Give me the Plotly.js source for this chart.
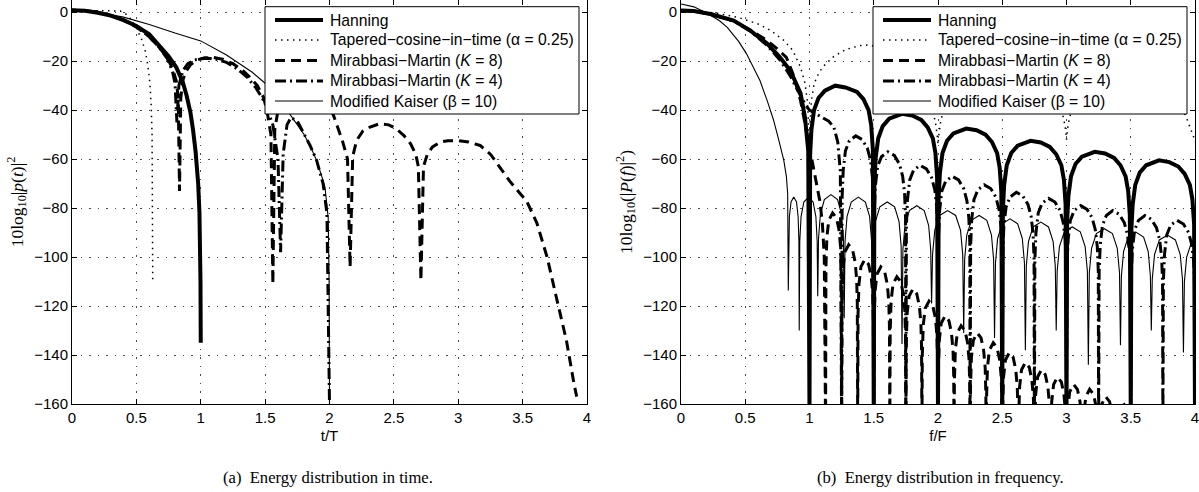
<!DOCTYPE html>
<html>
<head>
<meta charset="utf-8">
<script src="https://cdn.plot.ly/plotly-3.0.1.min.js"></script>
<style>
html,body{margin:0;padding:0;background:#fff;}
#chart{width:1199px;height:492px;}
</style>
</head>
<body>
<div id="chart"></div>
<script>
// ---------- Legend names ----------
const seriesNames = [
  'Hanning',
  'Tapered\u2212cosine\u2212in\u2212time (\u03b1 = 0.25)',
  'Mirabbasi\u2212Martin (<i>K</i> = 8)',
  'Mirabbasi\u2212Martin (<i>K</i> = 4)',
  'Modified Kaiser (\u03b2 = 10)'
];

// ---------- (a) Energy distribution in time: t/T vs dB ----------
const tHanning = [0, 0.1, 0.2, 0.3, 0.4, 0.5, 0.6, 0.68, 0.75, 0.81, 0.86, 0.89, 0.92, 0.94, 0.96, 0.98, 0.99, 0.998, 1.0];
const dbHanningT = [0.8, 0.6, -0.2, -1.4, -3.2, -5.6, -9, -13.5, -18, -22.5, -28.5, -34, -41, -48, -57, -70, -82, -110, -135];

const tTaper = [0, 0.1, 0.2, 0.3, 0.375, 0.42, 0.46, 0.5, 0.54, 0.57, 0.59, 0.605, 0.615, 0.622, 0.627];
const dbTaperT = [0.8, 0.8, 0.8, 0.8, 0.5, -0.8, -3, -6.5, -11, -16, -22, -29, -38, -50, -110];

const tMM8 = [0, 0.1, 0.2, 0.3, 0.4, 0.5, 0.6, 0.68, 0.74, 0.78, 0.81, 0.825, 0.835, 0.845, 0.86, 0.88, 0.92, 0.97, 1.03, 1.1, 1.17, 1.25, 1.32, 1.38, 1.44, 1.49, 1.52, 1.545, 1.56, 1.575, 1.6, 1.65, 1.72, 1.8, 1.88, 1.96, 2.03, 2.1, 2.14, 2.16, 2.18, 2.21, 2.26, 2.31, 2.39, 2.46, 2.52, 2.58, 2.63, 2.67, 2.69, 2.71, 2.73, 2.76, 2.8, 2.86, 2.92, 3.0, 3.08, 3.17, 3.25, 3.32, 3.4, 3.48, 3.53, 3.61, 3.69, 3.76, 3.84, 3.9, 3.92];
const dbMM8T = [0.8, 0.6, 0, -1.2, -3.2, -6, -10, -14.5, -18.5, -23, -28, -35, -73, -35, -28, -24.5, -21.5, -19.5, -18.6, -18.5, -19.2, -21, -23.5, -26.5, -30, -35, -42, -50, -111, -48, -40, -33, -29, -28, -30, -35, -42, -52.4, -60, -104, -59, -52.4, -48.5, -47, -45.5, -46, -47.6, -50.5, -53.7, -58, -63, -109.5, -63, -58, -55, -53, -52.5, -52.4, -53, -54.4, -58, -63, -69, -74, -77, -86, -100, -116, -134, -152, -157];

const tMM4 = [0, 0.1, 0.2, 0.3, 0.4, 0.5, 0.6, 0.68, 0.74, 0.78, 0.8, 0.815, 0.83, 0.86, 0.9, 0.95, 1.0, 1.06, 1.12, 1.2, 1.28, 1.36, 1.43, 1.5, 1.56, 1.6, 1.62, 1.64, 1.67, 1.7, 1.75, 1.8, 1.85, 1.9, 1.95, 1.98, 2.0];
const dbMM4T = [0.8, 0.6, 0, -1.2, -3.2, -6, -10, -14.5, -19, -24, -29, -45, -30, -24, -21, -19.5, -19, -18.8, -19.2, -20.5, -23, -26.5, -31, -37, -46, -60, -98, -58, -46, -43, -44.5, -49.5, -54.5, -60.5, -70, -82, -160];

const tKaiser = [0, 0.2, 0.4, 0.6, 0.8, 1.0, 1.2, 1.4, 1.5, 1.6, 1.67, 1.74, 1.8, 1.85, 1.9, 1.94, 1.965, 1.99, 1.997, 2.0];
const dbKaiserT = [0.5, 0, -2, -5, -8.5, -11.7, -17.5, -24.5, -29, -35, -40, -45, -49.7, -54.5, -60.6, -67, -71.5, -84, -110, -160];

// ---------- (b) Energy distribution in frequency: f/F vs dB ----------
const fHanning = [0, 0.1, 0.23, 0.32, 0.41, 0.54, 0.67, 0.77, 0.85, 0.93, 0.965, 0.99, 1.0,
  1.005, 1.015, 1.035, 1.07, 1.12, 1.2, 1.28, 1.37, 1.42, 1.46, 1.48, 1.493, 1.5,
  1.505, 1.515, 1.535, 1.57, 1.62, 1.72, 1.8, 1.87, 1.92, 1.96, 1.98, 1.993, 2.0,
  2.005, 2.015, 2.035, 2.07, 2.12, 2.22, 2.3, 2.37, 2.42, 2.46, 2.48, 2.493, 2.5,
  2.505, 2.515, 2.535, 2.57, 2.62, 2.72, 2.8, 2.87, 2.92, 2.96, 2.98, 2.993, 3.0,
  3.005, 3.015, 3.035, 3.07, 3.12, 3.22, 3.3, 3.37, 3.42, 3.46, 3.48, 3.493, 3.5,
  3.505, 3.515, 3.535, 3.57, 3.62, 3.72, 3.8, 3.87, 3.92, 3.96, 3.98, 3.993, 4.0];
const dbHanningF = [0.7, 0.5, -0.7, -2, -3.4, -7.5, -12.8, -18.4, -23.8, -33, -43, -56.5, -165,
  -58, -48, -40, -35, -32, -30, -30.7, -32.5, -35.5, -40, -46, -56, -165,
  -69.5, -59.5, -51.5, -46.5, -43.5, -41.5, -42.2, -44, -47, -51.5, -57.5, -67.5, -165,
  -75.5, -65.5, -57.5, -52.5, -49.5, -47.5, -48.2, -50, -53, -57.5, -63.5, -73.5, -165,
  -80.5, -70.5, -62.5, -57.5, -54.5, -52.5, -53.2, -55, -58, -62.5, -68.5, -78.5, -165,
  -85, -75, -67, -62, -59, -57, -57.7, -59.5, -62.5, -67, -73, -83, -165,
  -88.5, -78.5, -70.5, -65.5, -62.5, -60.5, -61.2, -63, -66, -70.5, -76.5, -86.5, -165];

const fTaper = [0, 0.15, 0.3, 0.45, 0.6, 0.7, 0.8, 0.87, 0.93, 0.965, 0.985, 0.995, 1.0, 1.005, 1.015, 1.035, 1.056, 1.1, 1.18, 1.28, 1.39, 1.45, 1.55, 1.65, 1.75, 1.83, 1.9, 1.95, 1.98, 1.993, 2.0, 2.007, 2.02, 2.05, 2.1, 2.18, 2.3, 2.45, 2.6, 2.72, 2.82, 2.9, 2.95, 2.98, 2.993, 3.0, 3.007, 3.02, 3.05, 3.1, 3.18, 3.3, 3.46, 3.6, 3.72, 3.82, 3.89, 3.94, 3.97, 3.99, 4.0];
const dbTaperF = [0.7, 0.4, -0.6, -2.2, -4.8, -7.5, -11.5, -15.6, -22.4, -29, -37, -46, -55, -45, -36, -29.5, -26.5, -22.5, -18.4, -15.3, -13.6, -13.4, -14.2, -16.5, -20.5, -25, -31, -38, -45, -50, -54, -50, -45, -38, -31, -25.5, -21.5, -20.2, -21, -23.5, -27, -32, -37.5, -44, -48, -52, -48, -44, -37.5, -32, -27.5, -25, -24.5, -25.5, -28.5, -33, -38, -44, -48, -51, -53];

const fMM8 = [0, 0.1, 0.23, 0.41, 0.54, 0.67, 0.75, 0.82, 0.87, 0.93, 0.98, 1.03, 1.08, 1.1, 1.115, 1.125,
  1.128, 1.135, 1.15, 1.18, 1.21, 1.23, 1.242, 1.247, 1.25,
  1.253, 1.26, 1.275, 1.305, 1.335, 1.355, 1.367, 1.372, 1.375,
  1.378, 1.385, 1.4, 1.43, 1.46, 1.48, 1.492, 1.497, 1.5,
  1.503, 1.51, 1.525, 1.555, 1.585, 1.605, 1.617, 1.622, 1.625,
  1.628, 1.635, 1.65, 1.68, 1.71, 1.73, 1.742, 1.747, 1.75,
  1.753, 1.76, 1.775, 1.805, 1.835, 1.855, 1.867, 1.872, 1.875,
  1.878, 1.885, 1.9, 1.93, 1.96, 1.98, 1.992, 1.997, 2.0,
  2.003, 2.01, 2.025, 2.055, 2.085, 2.105, 2.117, 2.122, 2.125,
  2.128, 2.135, 2.15, 2.18, 2.21, 2.23, 2.242, 2.247, 2.25,
  2.253, 2.26, 2.275, 2.305, 2.335, 2.355, 2.367, 2.372, 2.375,
  2.378, 2.385, 2.4, 2.43, 2.46, 2.48, 2.492, 2.497, 2.5,
  2.503, 2.51, 2.525, 2.555, 2.585, 2.605, 2.617, 2.622, 2.625,
  2.628, 2.635, 2.65, 2.68, 2.71, 2.73, 2.742, 2.747, 2.75,
  2.753, 2.76, 2.775, 2.805, 2.835, 2.855, 2.867, 2.872, 2.875,
  2.878, 2.885, 2.9, 2.93, 2.96, 2.98, 2.992, 2.997, 3.0,
  3.003, 3.01, 3.025, 3.055, 3.085, 3.105, 3.117, 3.122, 3.125,
  3.128, 3.135, 3.15, 3.18, 3.21, 3.23, 3.242, 3.247, 3.25,
  3.253, 3.26, 3.275, 3.305, 3.335, 3.355, 3.367, 3.372, 3.375,
  3.378, 3.385, 3.4, 3.43, 3.46, 3.48, 3.492, 3.497, 3.5];
const dbMM8F = [0.7, 0.5, -0.8, -3.5, -7.3, -11.5, -15, -18.4, -25, -36, -49.6, -63, -77, -86, -100, -170,
  -104, -92, -85, -82, -84, -89, -96, -106, -170,
  -117, -105, -98, -95, -97, -102, -109, -119, -170,
  -123, -111, -104, -101, -103, -108, -115, -125, -170,
  -126, -114, -107, -104, -106, -111, -118, -128, -170,
  -130, -118, -111, -108, -110, -115, -122, -132, -170,
  -135, -123, -116, -113, -115, -120, -127, -137, -170,
  -140, -128, -121, -118, -120, -125, -132, -142, -170,
  -146, -134, -127, -124, -126, -131, -138, -148, -170,
  -150, -138, -131, -128, -130, -135, -142, -152, -170,
  -153, -141, -134, -131, -133, -138, -145, -155, -170,
  -157, -145, -138, -135, -137, -142, -149, -159, -170,
  -161, -149, -142, -139, -141, -146, -153, -163, -170,
  -165, -153, -146, -143, -145, -150, -157, -167, -170,
  -168, -156, -149, -146, -148, -153, -160, -170, -170,
  -170, -159, -152, -149, -151, -156, -163, -170, -170,
  -170, -162, -155, -152, -154, -159, -166, -170, -170,
  -170, -164, -157, -154, -156, -161, -168, -170, -170,
  -170, -167, -160, -157, -159, -164, -170, -170, -170,
  -170, -169, -162, -159, -161, -166, -170, -170, -170];

const fMM4 = [0, 0.1, 0.23, 0.32, 0.41, 0.54, 0.67, 0.77, 0.85, 0.92, 0.97, 1.0, 1.05, 1.1, 1.15, 1.19, 1.22, 1.24, 1.25,
  1.254, 1.2625, 1.28, 1.31, 1.36, 1.41, 1.45, 1.475, 1.49, 1.4975, 1.5,
  1.504, 1.5125, 1.53, 1.56, 1.61, 1.66, 1.7, 1.725, 1.74, 1.7475, 1.75,
  1.754, 1.7625, 1.78, 1.81, 1.86, 1.91, 1.95, 1.975, 1.99, 1.9975, 2.0,
  2.004, 2.0125, 2.03, 2.06, 2.11, 2.16, 2.2, 2.225, 2.24, 2.2475, 2.25,
  2.254, 2.2625, 2.28, 2.31, 2.36, 2.41, 2.45, 2.475, 2.49, 2.4975, 2.5,
  2.504, 2.5125, 2.53, 2.56, 2.61, 2.66, 2.7, 2.725, 2.74, 2.7475, 2.75,
  2.754, 2.7625, 2.78, 2.81, 2.86, 2.91, 2.95, 2.975, 2.99, 2.9975, 3.0,
  3.004, 3.0125, 3.03, 3.06, 3.11, 3.16, 3.2, 3.225, 3.24, 3.2475, 3.25,
  3.254, 3.2625, 3.28, 3.31, 3.36, 3.41, 3.45, 3.475, 3.49, 3.4975, 3.5,
  3.504, 3.5125, 3.53, 3.56, 3.61, 3.66, 3.7, 3.725, 3.74, 3.7475, 3.75,
  3.754, 3.7625, 3.78, 3.81, 3.86, 3.91, 3.95, 3.975, 3.99, 3.9975, 4.0];
const dbMM4F = [0.7, 0.5, -0.8, -2, -3.5, -7.8, -13.5, -19.5, -26, -33, -38, -40, -41.5, -43, -44.5, -47, -53, -65, -170,
  -75.5, -64.5, -56.5, -52.5, -50.5, -52, -55.5, -60.5, -67.5, -77.5, -170,
  -82, -71, -63, -59, -57, -58.5, -62, -67, -74, -84, -170,
  -87.5, -76.5, -68.5, -64.5, -62.5, -64, -67.5, -72.5, -79.5, -89.5, -170,
  -92, -81, -73, -69, -67, -68.5, -72, -77, -84, -94, -170,
  -95.5, -84.5, -76.5, -72.5, -70.5, -72, -75.5, -80.5, -87.5, -97.5, -170,
  -98.5, -87.5, -79.5, -75.5, -73.5, -75, -78.5, -83.5, -90.5, -100.5, -170,
  -101, -90, -82, -78, -76, -77.5, -81, -86, -93, -103, -170,
  -104, -93, -85, -81, -79, -80.5, -84, -89, -96, -106, -170,
  -106, -95, -87, -83, -81, -82.5, -86, -91, -98, -108, -170,
  -108, -97, -89, -85, -83, -84.5, -88, -93, -100, -110, -170,
  -110, -99, -91, -87, -85, -86.5, -90, -95, -102, -112, -170];

const fKaiser = [0, 0.1, 0.2, 0.3, 0.36, 0.45, 0.51, 0.56, 0.615, 0.67, 0.72, 0.76, 0.8, 0.82, 0.83, 0.835,
  0.8376, 0.8435, 0.8563, 0.8775, 0.8988, 0.9115, 0.9175, 0.92,
  0.9243, 0.9344, 0.956, 0.992, 1.028, 1.0496, 1.0597, 1.064,
  1.0702, 1.0846, 1.1155, 1.167, 1.2185, 1.2494, 1.2638, 1.27,
  1.2766, 1.292, 1.325, 1.38, 1.435, 1.468, 1.4834, 1.49,
  1.4969, 1.513, 1.5475, 1.605, 1.6625, 1.697, 1.7131, 1.72,
  1.7269, 1.743, 1.7775, 1.835, 1.8925, 1.927, 1.9431, 1.95,
  1.9575, 1.975, 2.0125, 2.075, 2.1375, 2.175, 2.1925, 2.2,
  2.2072, 2.224, 2.26, 2.32, 2.38, 2.416, 2.4328, 2.44,
  2.4472, 2.464, 2.5, 2.56, 2.62, 2.656, 2.6728, 2.68,
  2.6872, 2.704, 2.74, 2.8, 2.86, 2.896, 2.9128, 2.92,
  2.9275, 2.945, 2.9825, 3.045, 3.1075, 3.145, 3.1625, 3.17,
  3.1775, 3.195, 3.2325, 3.295, 3.3575, 3.395, 3.4125, 3.42,
  3.4272, 3.444, 3.48, 3.54, 3.6, 3.636, 3.6528, 3.66,
  3.6675, 3.685, 3.7225, 3.785, 3.8475, 3.885, 3.9025, 3.91,
  3.9175, 3.935, 3.9725, 4.0];
const dbKaiserF = [3.4, 2.2, -0.3, -3.5, -6.2, -12, -17, -22, -28, -36, -44, -52, -60.5, -67, -74, -113.6,
  -93.5, -83.5, -77.5, -75.5, -77.5, -83.5, -93.5, -130,
  -93.5, -83.5, -77.5, -75.5, -77.5, -83.5, -93.5, -116,
  -92.5, -82.5, -76.5, -74.5, -76.5, -82.5, -92.5, -125,
  -93.5, -83.5, -77.5, -75.5, -77.5, -83.5, -93.5, -115,
  -95.5, -85.5, -79.5, -77.5, -79.5, -85.5, -95.5, -135.5,
  -97, -87, -81, -79, -81, -87, -97, -119,
  -99, -89, -83, -81, -83, -89, -99, -131,
  -101, -91, -85, -83, -85, -91, -101, -133,
  -102.4, -92.4, -86.4, -84.4, -86.4, -92.4, -102.4, -138,
  -103.7, -93.7, -87.7, -85.7, -87.7, -93.7, -103.7, -130,
  -105.7, -95.7, -89.7, -87.7, -89.7, -95.7, -105.7, -144,
  -106.4, -96.4, -90.4, -88.4, -90.4, -96.4, -106.4, -136,
  -107.8, -97.8, -91.8, -89.8, -91.8, -97.8, -107.8, -130,
  -109, -99, -93, -91, -93, -99, -109, -139,
  -110, -100, -94, -92.5];

// ---------- Styles ----------
const styles = [
  {color: '#000', width: 4, dash: 'solid'},
  {color: '#000', width: 1.5, dash: '1.5px,4.5px'},
  {color: '#000', width: 3, dash: '10px,6px'},
  {color: '#000', width: 3, dash: '11px,4px,2px,4px'},
  {color: '#000', width: 1.1, dash: 'solid'}
];

const timeX = [tHanning, tTaper, tMM8, tMM4, tKaiser];
const timeY = [dbHanningT, dbTaperT, dbMM8T, dbMM4T, dbKaiserT];
const freqX = [fHanning, fTaper, fMM8, fMM4, fKaiser];
const freqY = [dbHanningF, dbTaperF, dbMM8F, dbMM4F, dbKaiserF];

const order = [4, 3, 2, 1, 0]; // thin first, thick on top
const traces = [];
order.forEach(i => {
  traces.push({x: timeX[i], y: timeY[i], xaxis: 'x', yaxis: 'y', type: 'scatter', mode: 'lines',
    name: seriesNames[i], showlegend: false, line: styles[i], hoverinfo: 'skip'});
});
order.forEach(i => {
  traces.push({x: freqX[i], y: freqY[i], xaxis: 'x2', yaxis: 'y2', type: 'scatter', mode: 'lines',
    name: seriesNames[i], showlegend: false, line: styles[i], hoverinfo: 'skip'});
});

// ---------- Page geometry helpers (plot area: 72..1195 px wide, 0..404 px high) ----------
const PL = 72, PW = 1123, PH = 404;
const px = v => (v - PL) / PW;
const py = v => (PH - v) / PH;

const sans = 'Liberation Sans, Arial, Helvetica, sans-serif';
const serifFam = 'Liberation Serif, Times New Roman, serif';
const tickFont = {family: sans, size: 15, color: '#000'};

function xAxis(domain, title, anchor) {
  return {domain: domain, anchor: anchor, range: [0, 4], dtick: 0.5, tick0: 0,
    showline: true, linecolor: '#000', linewidth: 1, mirror: 'ticks',
    ticks: 'inside', ticklen: 5, tickcolor: '#000', tickfont: tickFont,
    ticklabeloverflow: 'allow',
    showgrid: true, gridcolor: 'rgba(0,0,0,0.7)', gridwidth: 1, griddash: '1.5px,7px',
    zeroline: false, fixedrange: true,
    title: {text: title, font: {family: sans, size: 15, color: '#000'}, standoff: 5}};
}
function yAxis(title, anchor) {
  return {domain: [0, 1], anchor: anchor, range: [-160, 5], dtick: 20, tick0: 0,
    showline: true, linecolor: '#000', linewidth: 1, mirror: 'ticks',
    ticks: 'inside', ticklen: 5, tickcolor: '#000', tickfont: tickFont,
    ticklabeloverflow: 'allow',
    showgrid: true, gridcolor: 'rgba(0,0,0,0.7)', gridwidth: 1, griddash: '1.5px,7px',
    zeroline: false, fixedrange: true,
    title: {text: title, font: {family: serifFam, size: 17.5, color: '#000'}, standoff: 6}};
}

// ---------- Legend boxes (one per panel) ----------
const shapes = [];
const annotations = [];
const legendLefts = [265, 873];
const rowY = [20, 40, 60.5, 81, 101];
legendLefts.forEach(L => {
  shapes.push({type: 'rect', xref: 'paper', yref: 'paper', layer: 'above',
    x0: px(L), x1: px(L + 314), y0: py(114), y1: py(6.7),
    fillcolor: '#fff', line: {color: '#000', width: 1}});
  seriesNames.forEach((name, i) => {
    shapes.push({type: 'line', xref: 'paper', yref: 'paper', layer: 'above',
      x0: px(L + 10), x1: px(L + 58), y0: py(rowY[i]), y1: py(rowY[i]),
      line: {color: '#000', width: styles[i].width, dash: styles[i].dash}});
    annotations.push({text: name, xref: 'paper', yref: 'paper',
      x: px(L + 63), y: py(rowY[i]), xanchor: 'left', yanchor: 'middle', showarrow: false,
      font: {family: sans, size: 15.7, color: '#000'}});
  });
});

annotations.push(
  {text: '(a)  Energy distribution in time.', xref: 'paper', yref: 'paper', x: px(328), y: py(477),
    xanchor: 'center', yanchor: 'middle', showarrow: false, font: {family: serifFam, size: 16.6, color: '#000'}},
  {text: '(b)  Energy distribution in frequency.', xref: 'paper', yref: 'paper', x: px(940), y: py(477),
    xanchor: 'center', yanchor: 'middle', showarrow: false, font: {family: serifFam, size: 16.6, color: '#000'}}
);

const layout = {
  width: 1199, height: 492,
  margin: {l: 72, r: 4, t: 0, b: 88, pad: 0},
  paper_bgcolor: '#fff', plot_bgcolor: '#fff',
  showlegend: false,
  xaxis: xAxis([0, px(587)], 't/T', 'y'),
  yaxis: yAxis('10log<sub>10</sub>|<i>p</i>(<i>t</i>)|<sup>2</sup>', 'x'),
  xaxis2: xAxis([px(681), 1.0], 'f/F', 'y2'),
  yaxis2: yAxis('10log<sub>10</sub>(|<i>P</i>(<i>f</i>)|<sup>2</sup>)', 'x2'),
  shapes: shapes,
  annotations: annotations
};

Plotly.newPlot('chart', traces, layout, {staticPlot: true, displayModeBar: false});
</script>
</body>
</html>
